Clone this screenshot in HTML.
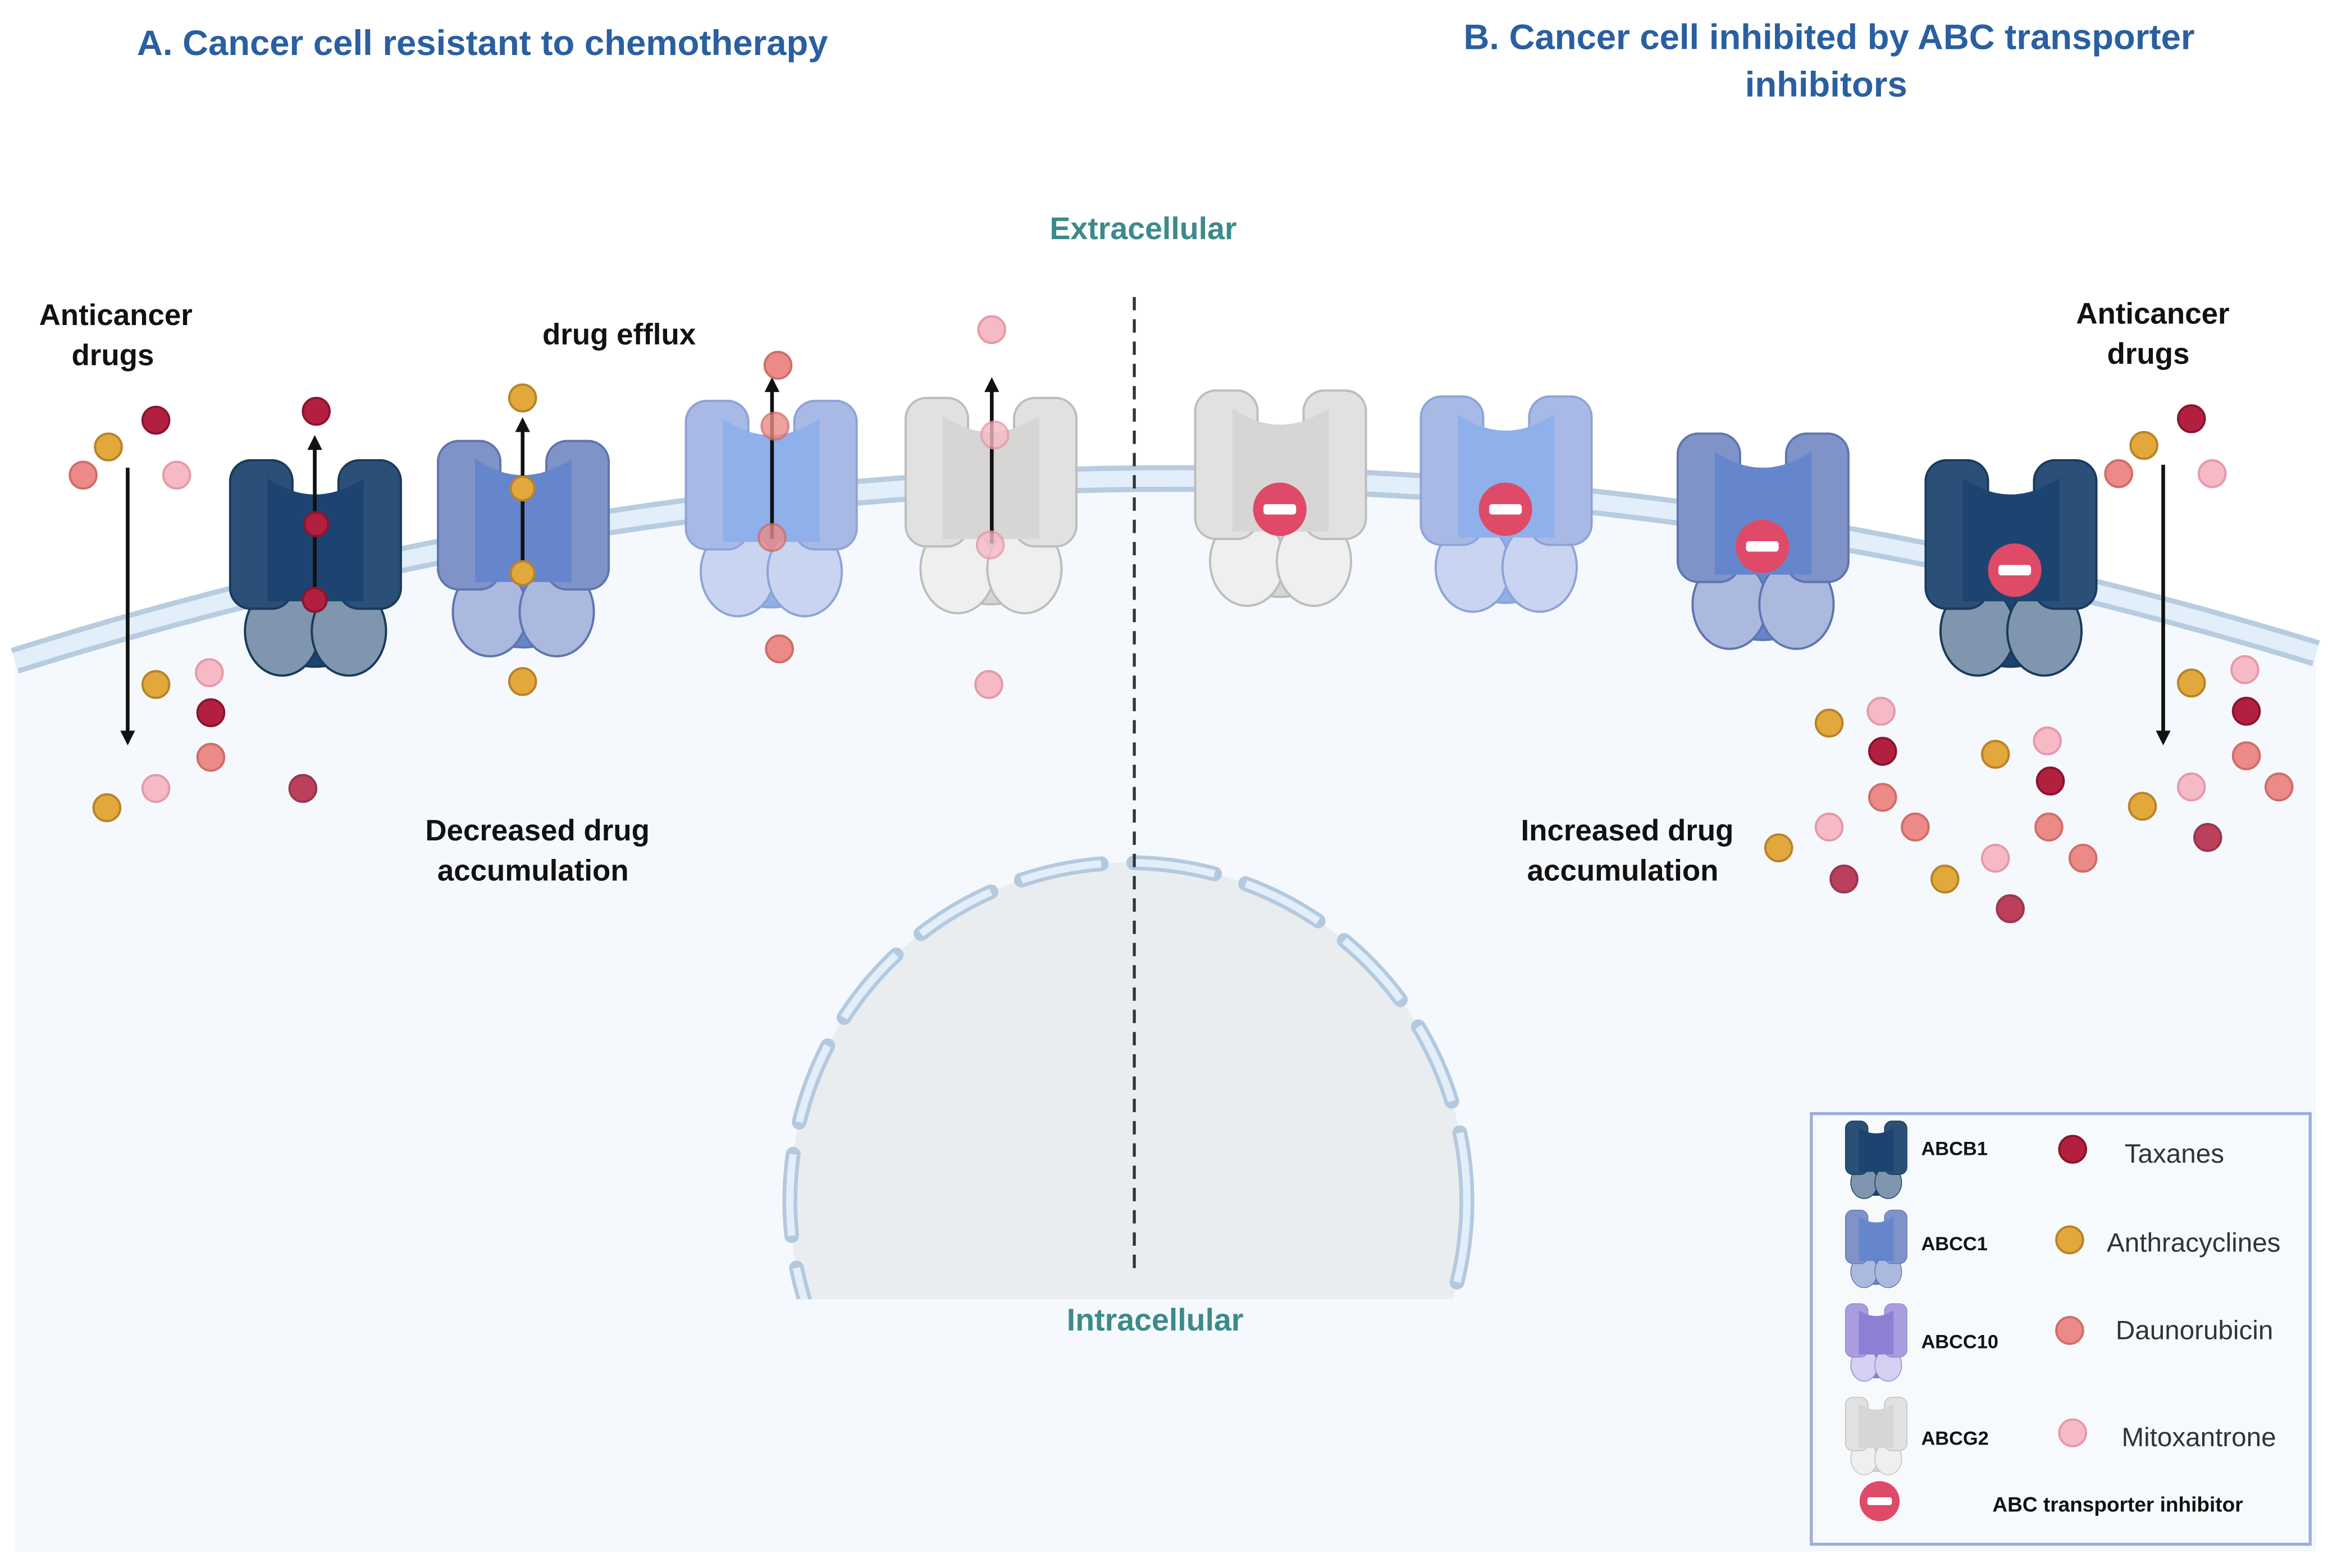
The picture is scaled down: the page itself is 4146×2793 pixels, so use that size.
<!DOCTYPE html>
<html><head><meta charset="utf-8"><style>
html,body{margin:0;padding:0;background:#fff}
svg{display:block}
text{font-family:"Liberation Sans",sans-serif;font-weight:bold}
</style></head><body>
<svg width="4146" height="2793" viewBox="0 0 1568 1056" preserveAspectRatio="none" xmlns="http://www.w3.org/2000/svg" xmlns:xlink="http://www.w3.org/1999/xlink">
<defs>
<g id="t">
<path d="M25 18 Q57 34 90 18 L90 128 Q57 150 25 128Z" fill="var(--b)" stroke="var(--s)" stroke-width="1.5"/>
<ellipse cx="35" cy="115" rx="25" ry="30" fill="var(--f)" stroke="var(--s)" stroke-width="1.5"/>
<ellipse cx="80" cy="115" rx="25" ry="30" fill="var(--f)" stroke="var(--s)" stroke-width="1.5"/>
<rect x="0" y="0" width="42" height="100" rx="14" fill="var(--p)" stroke="var(--s)" stroke-width="1.5"/>
<rect x="73" y="0" width="42" height="100" rx="14" fill="var(--p)" stroke="var(--s)" stroke-width="1.5"/>
<path d="M25 12 Q57 34 90 12 L90 95 L25 95Z" fill="var(--b)"/>
</g>
<g id="inh"><circle r="18" fill="#de4a67"/><rect x="-11" y="-3.5" width="22" height="7" rx="2" fill="#fff"/></g>
<clipPath id="nc"><rect x="0" y="0" width="1568" height="875"/></clipPath>
<marker id="ah" markerWidth="10" markerHeight="10" refX="5" refY="5" orient="auto" markerUnits="userSpaceOnUse"><path d="M0 0 L10 5 L0 10Z" fill="#111"/></marker>
</defs>
<style>
.nv{--p:#2b5078;--b:#1d4470;--f:#7f96ae;--s:#1b3a5c}
.c1{--p:#7f93c8;--b:#6586cc;--f:#abb9de;--s:#6075b0}
.lb{--p:#a8b9e6;--b:#8fb0ea;--f:#c9d4f1;--s:#8ea3d8}
.gr{--p:#e1e1e1;--b:#d8d5d5;--f:#efefef;--s:#bdbdbd}
.t{fill:#b3203f;stroke:#8a1530}.a{fill:#e3a83b;stroke:#b8832a}.d{fill:#eb8a86;stroke:#cf6d6a}.m{fill:#f6bac6;stroke:#e59aa8}
</style>
<rect width="1568" height="1056" fill="#fff"/>
<path d="M10 445 Q785 202 1560 440 L1560 1045 L10 1045Z" fill="#f5f9fd"/>
<path d="M10 445 Q785 202 1560 440" fill="none" stroke="#b7cce0" stroke-width="18"/>
<path d="M10 445 Q785 202 1560 440" fill="none" stroke="#e2eef9" stroke-width="11"/>
<g clip-path="url(#nc)">
<circle cx="760" cy="809" r="228" fill="#e9edf0"/>
<circle cx="760" cy="809" r="228" fill="none" stroke="#b3c9de" stroke-width="10" stroke-dasharray="55 22" stroke-linecap="round"/>
<circle cx="760" cy="809" r="228" fill="none" stroke="#e2eef9" stroke-width="5" stroke-dasharray="55 22"/>
</g>
<line x1="764" y1="200" x2="764" y2="858" stroke="#333" stroke-width="2" stroke-dasharray="9 6"/>

<text x="325" y="37" font-size="24" fill="#2a5fa0" text-anchor="middle">A. Cancer cell resistant to chemotherapy</text>
<text x="1232" y="33" font-size="24" fill="#2a5fa0" text-anchor="middle">B. Cancer cell inhibited by ABC transporter</text>
<text x="1230" y="65" font-size="24" fill="#2a5fa0" text-anchor="middle">inhibitors</text>
<text x="770" y="161" font-size="21" fill="#3d8a8a" text-anchor="middle">Extracellular</text>
<text x="778" y="896" font-size="21" fill="#3d8a8a" text-anchor="middle">Intracellular</text>
<g font-size="20" fill="#111" text-anchor="middle">
<text x="78" y="219">Anticancer</text><text x="76" y="246">drugs</text>
<text x="417" y="232">drug efflux</text>
<text x="1450" y="218">Anticancer</text><text x="1447" y="245">drugs</text>
<text x="362" y="566">Decreased drug</text><text x="359" y="593">accumulation</text>
<text x="1096" y="566">Increased drug</text><text x="1093" y="593">accumulation</text>
</g>

<use href="#t" class="nv" x="155" y="310"/>
<use href="#t" class="c1" x="295" y="297"/>
<use href="#t" class="lb" x="462" y="270"/>
<use href="#t" class="gr" x="610" y="268"/>
<use href="#t" class="gr" x="805" y="263"/>
<use href="#t" class="lb" x="957" y="267"/>
<use href="#t" class="c1" x="1130" y="292"/>
<use href="#t" class="nv" x="1297" y="310"/>
<use href="#inh" x="862" y="343"/>
<use href="#inh" x="1014" y="343"/>
<use href="#inh" x="1187" y="368"/>
<use href="#inh" x="1357" y="384"/>

<g stroke="#111" stroke-width="2.5" marker-end="url(#ah)">
<line x1="212" y1="405" x2="212" y2="298"/>
<line x1="352" y1="388" x2="352" y2="286"/>
<line x1="520" y1="363" x2="520" y2="259"/>
<line x1="668" y1="366" x2="668" y2="259"/>
<line x1="86" y1="315" x2="86" y2="497"/>
<line x1="1457" y1="313" x2="1457" y2="497"/>
</g>

<g stroke-width="1.5">
<circle class="t" cx="213" cy="277" r="9"/><circle class="t" cx="213" cy="353" r="8"/><circle class="t" cx="212" cy="404" r="8"/>
<circle class="a" cx="352" cy="268" r="9"/><circle class="a" cx="352" cy="329" r="8"/><circle class="a" cx="352" cy="386" r="8"/><circle class="a" cx="352" cy="459" r="9"/>
<circle class="d" cx="524" cy="246" r="9"/><circle class="d" cx="522" cy="287" r="9" opacity=".8"/><circle class="d" cx="520" cy="362" r="9" opacity=".8"/><circle class="d" cx="525" cy="437" r="9"/>
<circle class="m" cx="668" cy="222" r="9"/><circle class="m" cx="670" cy="293" r="9" opacity=".8"/><circle class="m" cx="667" cy="367" r="9" opacity=".8"/><circle class="m" cx="666" cy="461" r="9"/>
<circle class="t" cx="105" cy="283" r="9"/><circle class="a" cx="73" cy="301" r="9"/><circle class="d" cx="56" cy="320" r="9"/><circle class="m" cx="119" cy="320" r="9"/>
<circle class="m" cx="141" cy="453" r="9"/><circle class="a" cx="105" cy="461" r="9"/><circle class="t" cx="142" cy="480" r="9"/><circle class="d" cx="142" cy="510" r="9"/>
<circle class="t" cx="204" cy="531" r="9" opacity=".85"/><circle class="m" cx="105" cy="531" r="9"/><circle class="a" cx="72" cy="544" r="9"/>
<circle class="t" cx="1476" cy="282" r="9"/><circle class="a" cx="1444" cy="300" r="9"/><circle class="d" cx="1427" cy="319" r="9"/><circle class="m" cx="1490" cy="319" r="9"/>
<circle class="m" cx="1512" cy="451" r="9"/><circle class="a" cx="1476" cy="460" r="9"/><circle class="t" cx="1513" cy="479" r="9"/><circle class="d" cx="1513" cy="509" r="9"/>
<circle class="d" cx="1535" cy="530" r="9"/><circle class="m" cx="1476" cy="530" r="9"/><circle class="a" cx="1443" cy="543" r="9"/><circle class="t" cx="1487" cy="564" r="9" opacity=".85"/>
<circle class="m" cx="1267" cy="479" r="9"/><circle class="a" cx="1232" cy="487" r="9"/><circle class="t" cx="1268" cy="506" r="9"/><circle class="a" cx="1344" cy="508" r="9"/><circle class="m" cx="1379" cy="499" r="9"/>
<circle class="t" cx="1381" cy="526" r="9"/><circle class="d" cx="1268" cy="537" r="9"/><circle class="m" cx="1232" cy="557" r="9"/><circle class="d" cx="1290" cy="557" r="9"/><circle class="d" cx="1380" cy="557" r="9"/>
<circle class="a" cx="1198" cy="571" r="9"/><circle class="m" cx="1344" cy="578" r="9"/><circle class="d" cx="1403" cy="578" r="9"/><circle class="t" cx="1242" cy="592" r="9" opacity=".85"/><circle class="a" cx="1310" cy="592" r="9"/><circle class="t" cx="1354" cy="612" r="9" opacity=".85"/>
</g>

<rect x="1220" y="750" width="336" height="290" fill="#f7fafd" stroke="#9aaedc" stroke-width="2"/>
<g transform="translate(1243,755) scale(0.36)"><use href="#t" class="nv"/></g>
<g transform="translate(1243,815) scale(0.36)"><use href="#t" class="c1"/></g>
<g transform="translate(1243,878) scale(0.36)"><use href="#t" style="--p:#a99de0;--b:#8e7fd4;--f:#d6cff2;--s:#9387cf"/></g>
<g transform="translate(1243,941) scale(0.36)"><use href="#t" class="gr"/></g>
<use href="#inh" x="1266" y="1011" transform="translate(-442.8 -353.85) scale(1.35)" style="display:none"/>
<g transform="translate(1266,1011) scale(0.75)"><use href="#inh"/></g>
<g font-size="13" fill="#111">
<text x="1294" y="778">ABCB1</text><text x="1294" y="842">ABCC1</text><text x="1294" y="908">ABCC10</text><text x="1294" y="973">ABCG2</text>
<text x="1342" y="1018" font-size="14">ABC transporter inhibitor</text>
</g>
<g stroke-width="1.5">
<circle class="t" cx="1396" cy="774" r="9"/><circle class="a" cx="1394" cy="835" r="9"/><circle class="d" cx="1394" cy="896" r="9"/><circle class="m" cx="1396" cy="965" r="9"/>
</g>
<g font-size="18" fill="#333" font-weight="normal" style="font-weight:normal">
<text x="1431" y="783" style="font-weight:normal">Taxanes</text>
<text x="1419" y="843" style="font-weight:normal">Anthracyclines</text>
<text x="1425" y="902" style="font-weight:normal">Daunorubicin</text>
<text x="1429" y="974" style="font-weight:normal">Mitoxantrone</text>
</g>
</svg>
</body></html>
